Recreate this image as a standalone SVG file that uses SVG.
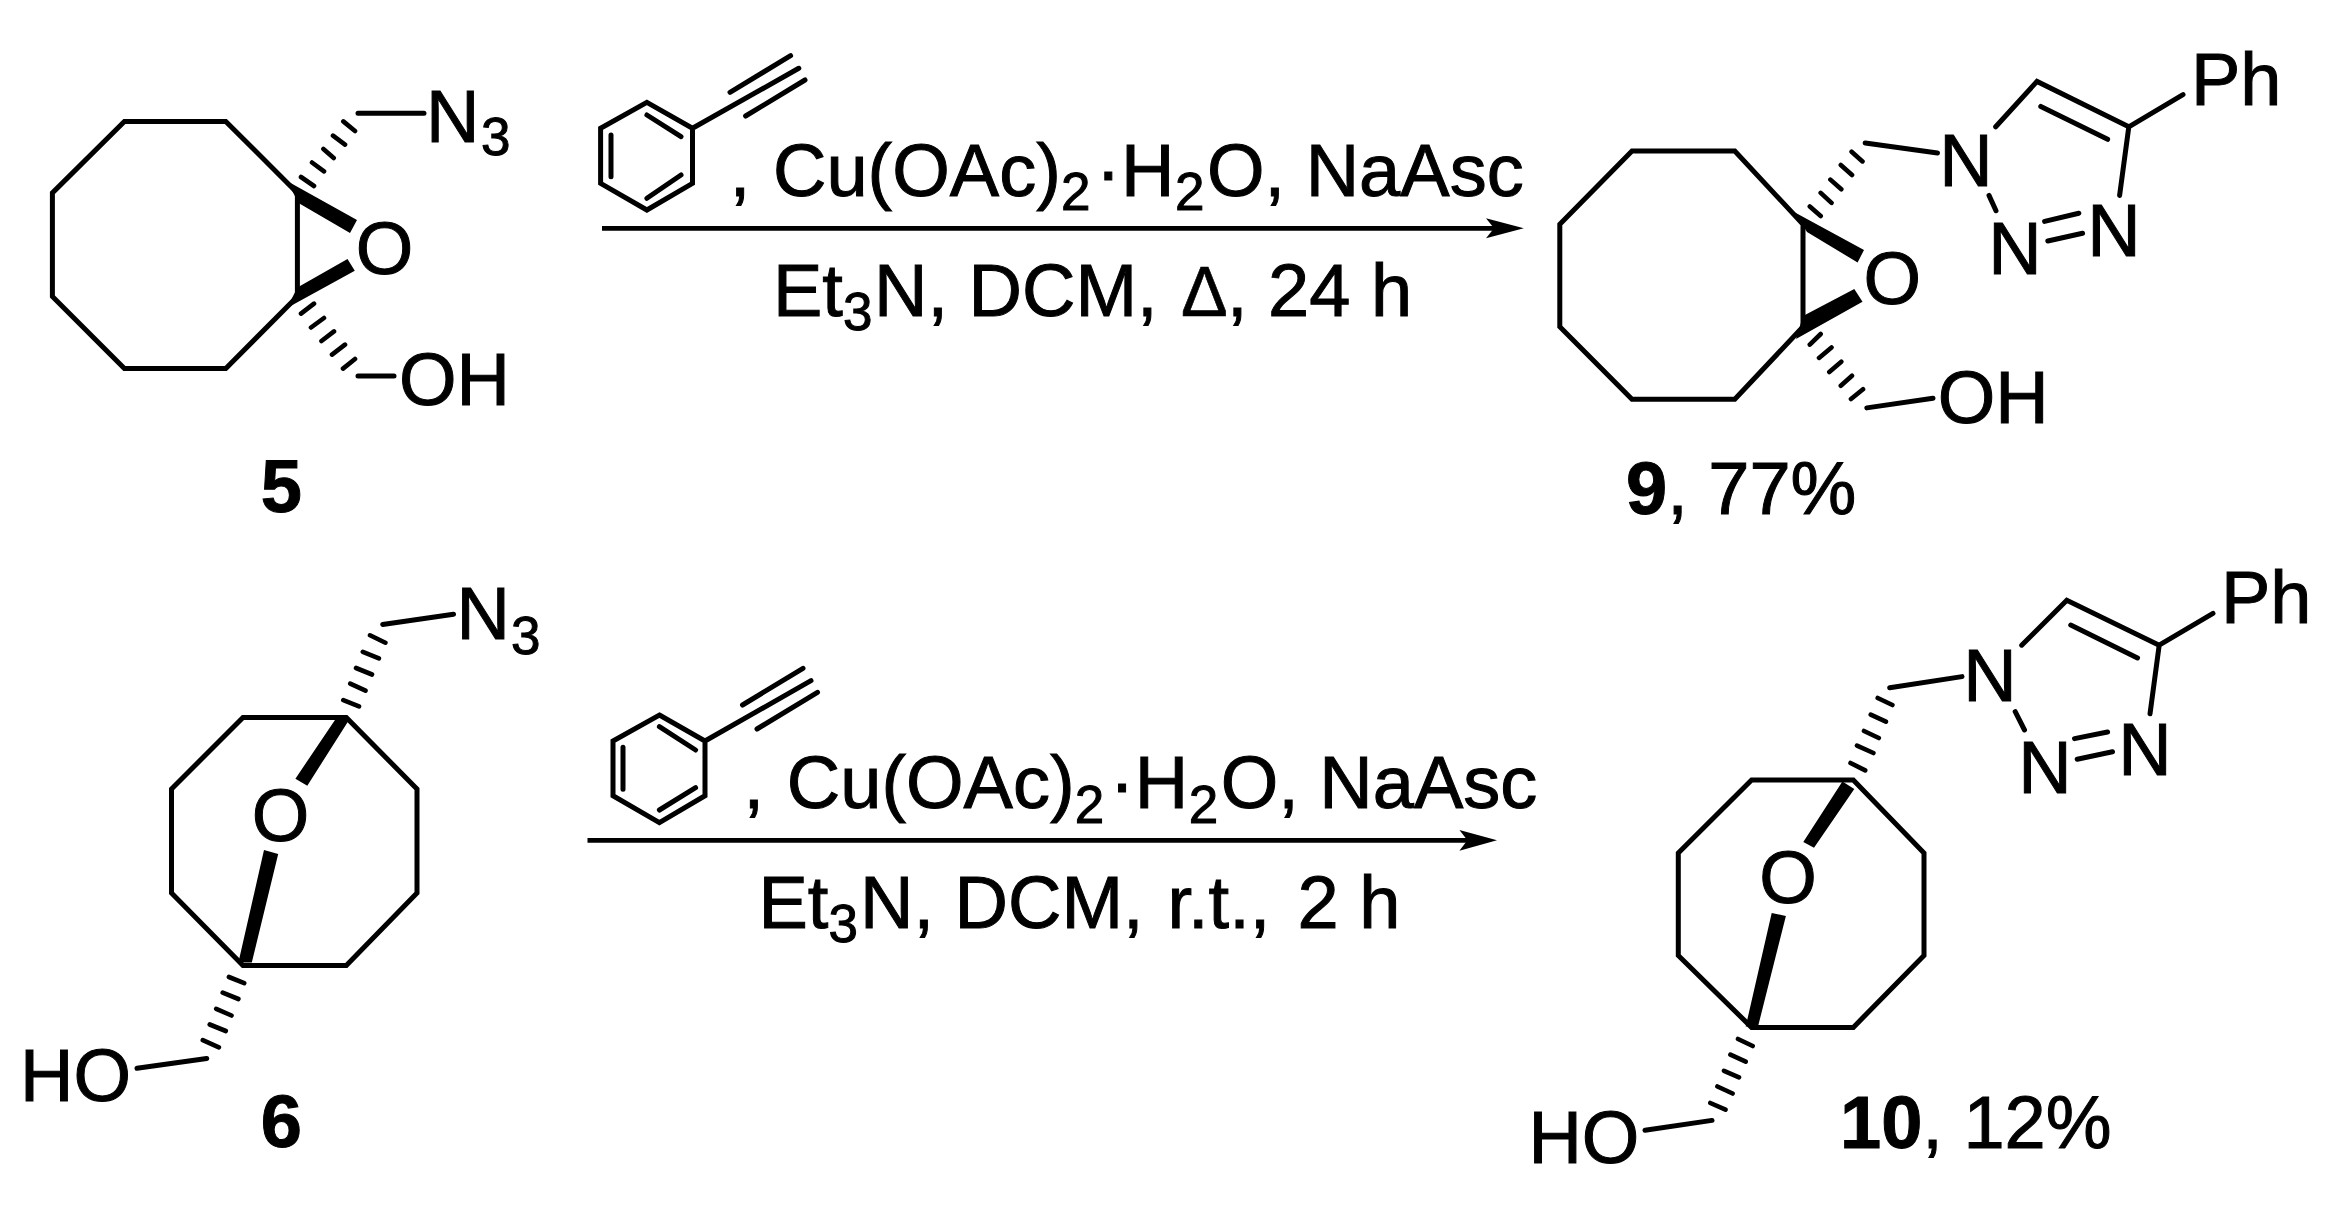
<svg xmlns="http://www.w3.org/2000/svg" width="2352" height="1218" viewBox="0 0 2352 1218">
<style>
text{font-family:"Liberation Sans",Arial,sans-serif;font-size:74px;fill:#000;stroke:#000;stroke-width:1}
.sub{font-size:53px}
.b{font-weight:bold}
.m{text-anchor:middle}
.delta{font-size:70px;stroke-width:.6}
.bond{fill:none;stroke:#000;stroke-width:5;stroke-linejoin:miter;stroke-linecap:round}
.hash{fill:none;stroke:#000;stroke-width:4.6;stroke-linecap:round}
.bold{fill:#000}
.arrow{fill:none;stroke:#000;stroke-width:4.8}
.head{fill:#000}
</style>
<rect width="2352" height="1218" fill="#fff"/>
<g id="compound-5">
<path class="bond" d="M297.4 192.9L225.8 121.4H124.4L52.4 192.9V296.4L124.4 368.6H225.8L297.4 296.4ZM358 113.2H424M358 376H394"/>
<path class="bold" d="M287 181L357 220L350 233L298.5 203ZM297.4 287.5L347.5 259L354.8 270.7L287 308Z"/>
<path class="hash" d="M301 177L314 186M312 162.5L324 171.4M323.4 149L333.7 158M333 135.7L345 144.6M343.3 121.4L355 131M301 313.6L314 303.6M311 327.5L324 318M321.5 341L334 331.4M332 354.6L345 344.6M343 368.6L355 359"/>
<text x="426" y="141.8">N</text><text class="sub" x="481" y="155">3</text>
<text class="m" x="384.6" y="273.5">O</text>
<text x="399" y="405.4">OH</text>
<text class="b m" x="281.3" y="512">5</text>
</g>
<g id="reagent-1">
<path class="bond" d="M646.9 102.3L692.5 128.3V183.3L646.9 210L600.6 183.3V128.3ZM646.9 115L681 136.7M646.9 198.3L681 175M611 135V176.7M692.5 128.3L798.8 68.3M730 92.3L790.6 55.7M745.6 116L805 80"/>
<text y="195.7"><tspan x="729.8">,</tspan><tspan x="773">Cu(OAc)</tspan><tspan class="sub" x="1061" y="210">2</tspan><tspan x="1096" y="195.7">·</tspan><tspan x="1121">H</tspan><tspan class="sub" x="1175" y="210">2</tspan><tspan x="1207" y="195.7">O, NaAsc</tspan></text>
<text y="316"><tspan x="773">Et</tspan><tspan class="sub" x="843" y="330">3</tspan><tspan x="874" y="316">N, DCM,</tspan><tspan class="delta" x="1181">Δ</tspan><tspan x="1227">, 24 h</tspan></text>
</g>
<g id="compound-9">
<path class="bond" d="M1803 224.3L1734.8 151H1632L1559.8 224.3V326.8L1632 399.3H1734.8L1803 326.8ZM1865.2 142.9L1937.5 152.9M1995.7 126.8L2037 81.4L2128.8 126.8M2040.8 106.4L2107.6 139.3M2128.8 126.8L2183 94.6M2128.8 126.8L2119.6 195.4M1989 195.4L1996 210.7M2044.6 221.4L2078.8 213.2M2047.8 241L2082.6 233.2M1866.8 407.9L1933 398.2"/>
<path class="bold" d="M1795 212.5L1864 250L1857.6 262.5L1807 232ZM1803 316L1854.3 289L1862.5 301.8L1796 339Z"/>
<path class="hash" d="M1809.8 206.4L1820.7 216M1820.7 192.9L1831.5 202.9M1830.4 179.6L1841.3 189.3M1840.8 165L1852 175M1851.6 151.8L1862.5 161.4M1809.8 344.6L1820.7 334M1819 357.9L1831.5 347.5M1829.3 372L1841.3 361.8M1840.8 385.7L1852 375.7M1851 399L1863 389.3"/>
<text class="m" x="1892.4" y="303.5">O</text>
<text class="m" x="1966" y="185.7">N</text>
<text class="m" x="2015" y="274.3">N</text>
<text class="m" x="2114" y="256.4">N</text>
<text x="2191" y="104.6">Ph</text>
<text x="1937.7" y="422.5">OH</text>
<text y="514"><tspan class="b" x="1626">9</tspan><tspan>, 77%</tspan></text>
</g>
<g id="compound-6">
<path class="bond" d="M346.3 717.5H243L171.5 789V893L243 965.5H346.3L417 893V789ZM382.7 624.5L453.5 614.2M206.7 1058.4L137 1068.3"/>
<path class="bold" d="M337 717L349 720L307.3 785.7L295.4 778.7ZM264 850L278.2 853.9L251.8 962.6L238.4 962.6Z"/>
<path class="hash" d="M343.3 700.2L359 706.4M350.2 683.6L365.5 690.7M356 668L372 674.5M362.8 651.8L378.9 658.4M370 635.3L385.4 642.7M228.9 977L244.2 983.2M222.7 992.7L238.4 999M216.2 1008.8L231.5 1015.5M209.7 1024.5L225.8 1031M202.8 1040.2L218.9 1047.3"/>
<text class="m" x="280.5" y="841">O</text>
<text x="456.4" y="639">N</text><text class="sub" x="511" y="653.5">3</text>
<text x="20" y="1100.6">HO</text>
<text class="b m" x="281.3" y="1146.5">6</text>
</g>
<g id="reagent-2">
<path class="bond" d="M659.4 715L705 741V795.7L659.4 822.7L613 795.7V741ZM659.4 726.7L695.6 750M659.4 810L695.6 787.7M623 747.3V789.3M705 741L811 680.7M742.5 705L803 668.3M757 729L817.5 692.3"/>
<text y="808.3"><tspan x="743.5">,</tspan><tspan x="786.8">Cu(OAc)</tspan><tspan class="sub" x="1074.7" y="822.6">2</tspan><tspan x="1109.7" y="808.3">·</tspan><tspan x="1134.7">H</tspan><tspan class="sub" x="1188.7" y="822.6">2</tspan><tspan x="1220.7" y="808.3">O, NaAsc</tspan></text>
<text y="928.3"><tspan x="758.5">Et</tspan><tspan class="sub" x="828.5" y="942">3</tspan><tspan x="860" y="928.3">N, DCM,</tspan><tspan x="1167.5">r.t.,</tspan><tspan x="1297.5">2 h</tspan></text>
</g>
<g id="compound-10">
<path class="bond" d="M1853.3 780H1751.6L1678.3 853V955.5L1751.6 1027.4H1853.3L1924 955.5V853ZM1889.7 687.8L1962 676.6M2021.7 645.2L2066.8 600.2L2159.2 645.2M2070.7 625L2137.5 658M2159.2 645.2L2213 613.4M2159.2 645.2L2150 713.8M2015.2 711.7L2024.5 730M2074.5 738.6L2107.6 732M2077.2 759.3L2112.5 751.8M1712 1120.4L1645 1130.3"/>
<path class="bold" d="M1842.4 781.6L1854.3 789L1814 847.7L1803.3 841.9ZM1771.7 913L1785.9 915.9L1758 1026.6H1745.7Z"/>
<path class="hash" d="M1850.5 763L1865.2 770.4M1857 745.6L1873.4 753M1864 731L1878.8 738M1870.7 714.6L1885.9 721.7M1877.7 698L1892.4 705M1738 1039L1752.7 1046M1730.4 1054.7L1745.7 1061.7M1724 1070.8L1739 1077.4M1717.4 1086.5L1732.6 1093.5M1710.3 1103L1725.5 1109.7"/>
<text class="m" x="1788" y="903">O</text>
<text class="m" x="1990" y="701.4">N</text>
<text class="m" x="2045" y="793">N</text>
<text class="m" x="2145" y="774.5">N</text>
<text x="2221" y="622.5">Ph</text>
<text x="1528.4" y="1163.4">HO</text>
<text y="1148"><tspan class="b" x="1840">10</tspan><tspan>, 12%</tspan></text>
</g>
<g id="connectors">
<path class="arrow" d="M602 228.3H1495"/>
<path class="head" d="M1523.8 228.3L1486 218.3L1494 228.3L1486 238.3Z"/>
<path class="arrow" d="M587.5 840.3H1468"/>
<path class="head" d="M1497 840.3L1459.4 830L1467.4 840.3L1459.4 850.7Z"/>
</g>
</svg>
